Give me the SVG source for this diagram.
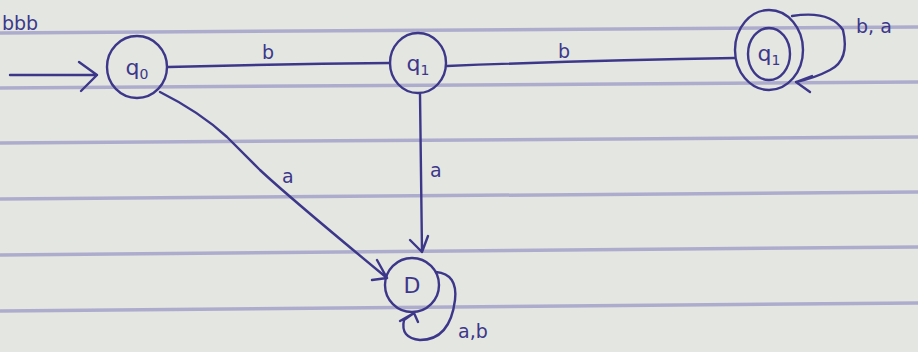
<svg xmlns="http://www.w3.org/2000/svg" width="918" height="352" viewBox="0 0 918 352">
<defs>
<style>
.paper{fill:#e4e6e1}
.rule{stroke:#aeaccd;stroke-width:3.5;fill:none}
.ink{stroke:#3d378a;stroke-width:2.4;fill:none;stroke-linecap:round;stroke-linejoin:round}
.lbl{fill:#3d378a;font-family:"DejaVu Sans","Liberation Sans",sans-serif;font-size:19px}
.st{fill:#3d378a;font-family:"DejaVu Sans","Liberation Sans",sans-serif;font-size:22px;text-anchor:middle}
</style>
</defs>
<rect class="paper" x="0" y="0" width="918" height="352"/>
<g id="paper-lines">
<line class="rule" x1="0" y1="33" x2="918" y2="27"/>
<line class="rule" x1="0" y1="88" x2="918" y2="82"/>
<line class="rule" x1="0" y1="143" x2="918" y2="137"/>
<line class="rule" x1="0" y1="199" x2="918" y2="192"/>
<line class="rule" x1="0" y1="255" x2="918" y2="247"/>
<line class="rule" x1="0" y1="311" x2="918" y2="303"/>
</g>
<text class="lbl" x="2" y="30" font-size="20">bbb</text>
<g id="connectors">
<path class="ink" d="M10 75 L97 75 M79 62 L97 75 L81 91"/>
<path class="ink" d="M168 67 Q280 64 390 63"/>
<path class="ink" d="M447 66 Q600 60 735 58"/>
<path class="ink" d="M160 92 Q200 112 227 137 L260 170 Q290 198 387 278 M377 260 L387 278 L372 280"/>
<path class="ink" d="M420 94 L422 252 M410 240 L422 252 L428 236"/>
<path class="ink" d="M792 16 Q830 10 843 30 Q850 60 830 70 Q815 78 796 82 M812 76 L796 82 L810 92"/>
<path class="ink" d="M436 272 Q458 274 455 300 Q450 340 420 340 Q400 338 404 320 L414 313 M400 321 L414 313 L418 322"/>
</g>
<text class="lbl" x="262" y="59">b</text>
<text class="lbl" x="558" y="58">b</text>
<text class="lbl" x="282" y="183">a</text>
<text class="lbl" x="430" y="177">a</text>
<text class="lbl" x="856" y="33">b, a</text>
<text class="lbl" x="458" y="338">a,b</text>
<g id="q0">
<ellipse class="ink" cx="137" cy="67" rx="30" ry="31"/>
<text class="st" x="137" y="75">q<tspan font-size="14" dy="4">0</tspan></text>
</g>
<g id="q1">
<ellipse class="ink" cx="418" cy="63" rx="28" ry="30"/>
<text class="st" x="418" y="71">q<tspan font-size="14" dy="4">1</tspan></text>
</g>
<g id="q2">
<ellipse class="ink" cx="769" cy="50" rx="34" ry="40"/>
<ellipse class="ink" cx="769" cy="54" rx="21" ry="26"/>
<text class="st" x="769" y="61">q<tspan font-size="14" dy="4">1</tspan></text>
</g>
<g id="D">
<ellipse class="ink" cx="412" cy="285" rx="27" ry="27"/>
<text class="st" x="412" y="293">D</text>
</g>
</svg>
